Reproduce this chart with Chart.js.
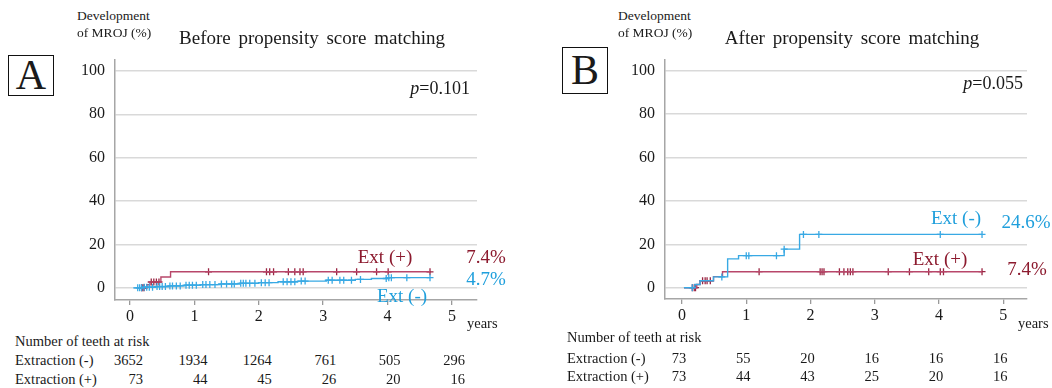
<!DOCTYPE html>
<html>
<head>
<meta charset="utf-8">
<script src="https://cdn.jsdelivr.net/npm/chart.js@4"></script>
<style>
  body { margin: 0; background: #fff; width: 1052px; height: 388px; overflow: hidden; position: relative;
         font-family: "Liberation Serif", "Times New Roman", serif; color: #1a1a1a; }
  canvas { position: absolute; }
  .t { position: absolute; white-space: nowrap; line-height: 1; }
  .ylab { font-size: 13.5px; }
  .title { font-size: 19px; word-spacing: 3px; }
  .pval { font-size: 18px; }
  .grp { font-size: 19px; }
  .risk { font-size: 14.5px; }
  .box { position: absolute; border: 1.5px solid #111; font-size: 42px; text-align: center; line-height: 40px; background: #fff; }
  .blue { color: #1f9fdc; }
  .red { color: #8c1a2e; }
</style>
</head>
<body>
<canvas id="chartA" width="422" height="290" style="left:60px;top:40px"></canvas>
<canvas id="chartB" width="422" height="289" style="left:610px;top:40px"></canvas>
<div id="labels"></div>
<script>
// Curvas de Kaplan-Meier (años, % acumulado) y marcas de censura.
const years = [0, 1, 2, 3, 4, 5];
const yTicks = [0, 20, 40, 60, 80, 100];

// Panel A: antes del emparejamiento
const kmNoExtA = [[0.05,0],[0.2,0.3],[0.4,0.6],[0.6,0.9],[0.85,1.2],[1.1,1.5],[1.4,1.8],[1.7,2.1],[2.0,2.4],[2.3,2.8],[2.6,3.1],[3.05,3.5],[3.5,3.9],[3.75,4.3],[4.0,4.7],[4.66,4.7]];
const censNoExtA = [[0.12,0],[0.15,0],[0.18,0],[0.22,0.3],[0.26,0.3],[0.3,0.3],[0.35,0.3],[0.42,0.6],[0.46,0.6],[0.5,0.6],[0.55,0.6],[0.62,0.9],[0.66,0.9],[0.72,0.9],[0.78,0.9],[0.87,1.2],[0.92,1.2],[0.97,1.2],[1.03,1.2],[1.13,1.5],[1.18,1.5],[1.24,1.5],[1.32,1.5],[1.42,1.8],[1.5,1.8],[1.58,1.8],[1.62,1.8],[1.72,2.1],[1.76,2.1],[1.8,2.1],[1.86,2.1],[1.94,2.1],[2.04,2.4],[2.1,2.4],[2.16,2.4],[2.38,2.8],[2.44,2.8],[2.5,2.8],[2.56,2.8],[2.66,3.1],[2.72,3.1],[3.08,3.5],[3.14,3.5],[3.26,3.5],[3.32,3.5],[3.44,3.5],[3.58,3.9],[3.98,4.3],[4.02,4.7],[4.06,4.7],[4.3,4.7],[4.66,4.7]];
const kmExtA = [[0.1,0],[0.26,1.4],[0.31,2.7],[0.48,5.0],[0.63,7.4],[4.66,7.4]];
const censExtA = [[0.18,0],[0.2,0],[0.22,0],[0.33,2.7],[0.37,2.7],[0.41,2.7],[0.45,2.7],[1.22,7.4],[2.12,7.4],[2.17,7.4],[2.23,7.4],[2.46,7.4],[2.56,7.4],[2.64,7.4],[2.69,7.4],[3.21,7.4],[3.52,7.4],[3.83,7.4],[4.01,7.4],[4.66,7.4]];
const riskNoExtA = [3652, 1934, 1264, 761, 505, 296];
const riskExtA = [73, 44, 45, 26, 20, 16];

// Panel B: después del emparejamiento
const kmNoExtB = [[0.03,0],[0.2,1.5],[0.28,3.2],[0.49,5.0],[0.71,13.3],[0.88,14.8],[1.59,17.8],[1.83,24.6],[4.67,24.6]];
const censNoExtB = [[0.16,0],[0.62,5.0],[1.0,14.8],[1.04,14.8],[1.47,14.8],[1.59,17.8],[1.89,24.6],[2.13,24.6],[4.02,24.6],[4.67,24.6]];
const kmExtB = [[0.03,0],[0.23,1.5],[0.28,3.2],[0.49,5.1],[0.63,7.4],[4.67,7.4]];
const censExtB = [[0.16,0],[0.19,0],[0.21,0],[0.32,3.2],[0.36,3.2],[0.39,3.2],[0.44,3.2],[1.2,7.4],[2.15,7.4],[2.18,7.4],[2.21,7.4],[2.45,7.4],[2.52,7.4],[2.58,7.4],[2.62,7.4],[2.66,7.4],[3.21,7.4],[3.54,7.4],[3.84,7.4],[4.02,7.4],[4.07,7.4],[4.67,7.4]];
const riskNoExtB = [73, 55, 20, 16, 16, 16];
const riskExtB = [73, 44, 43, 25, 20, 16];

const AZUL = "#38a9e4";
const ROJO = "#b8476a";
const ROJO_MARCA = "#9a2442";
const FUENTE = "'Liberation Serif', 'Times New Roman', serif";

const aPuntos = (arr) => arr.map(([x, y]) => ({ x, y }));

function dibujarKM(id, km, xMin, xMax, yMin) {
  const curva = (datos, color) => ({
    data: aPuntos(datos), stepped: true, borderColor: color, borderWidth: 1.4,
    pointRadius: 0, fill: false,
  });
  const censura = (datos, color) => ({
    data: aPuntos(datos), showLine: false, pointStyle: "cross", pointRadius: 3.5,
    borderColor: color, borderWidth: 1.3, pointBorderColor: color,
  });
  return new Chart(document.getElementById(id), {
    type: "line",
    data: {
      datasets: [
        curva(km.noExt, AZUL), censura(km.censNoExt, AZUL),
        curva(km.ext, ROJO), censura(km.censExt, ROJO_MARCA),
      ],
    },
    options: {
      responsive: false,
      animation: false,
      layout: { padding: { top: 5, right: 5, left: 0, bottom: 0 }, autoPadding: false },
      plugins: { legend: { display: false }, tooltip: { enabled: false } },
      scales: {
        x: {
          type: "linear", min: xMin, max: xMax,
          afterBuildTicks: (s) => { s.ticks = years.map((v) => ({ value: v })); },
          afterFit: (s) => { s.height = 30; },
          grid: { drawOnChartArea: false, drawTicks: true, tickLength: 5, color: "#9a9a9a", lineWidth: 1.3 },
          border: { color: "#a6a6a6", width: 1.5 },
          ticks: { color: "#1a1a1a", font: { family: FUENTE, size: 16 }, padding: 2, maxRotation: 0 },
        },
        y: {
          type: "linear", min: yMin, max: 105.2,
          afterBuildTicks: (s) => { s.ticks = yTicks.map((v) => ({ value: v })); },
          afterFit: (s) => { s.width = 55; },
          grid: { color: "#d9d9d9", lineWidth: 1.5, drawTicks: false },
          border: { color: "#a6a6a6", width: 1.5 },
          ticks: { color: "#1a1a1a", font: { family: FUENTE, size: 16 }, padding: 10 },
        },
      },
    },
  });
}

const chartA = dibujarKM("chartA",
  { noExt: kmNoExtA, censNoExt: censNoExtA, ext: kmExtA, censExt: censExtA }, -0.233, 5.39, -5.6);
const chartB = dibujarKM("chartB",
  { noExt: kmNoExtB, censNoExt: censNoExtB, ext: kmExtB, censExt: censExtB }, -0.265, 5.37, -5.2);

// ---------- Textos ----------
const cont = document.getElementById("labels");
function texto(txt, x, y, alin, clase) {
  const d = document.createElement("div");
  d.className = "t " + (clase || "");
  d.innerHTML = txt;
  d.style.left = x + "px";
  d.style.top = y + "px";
  const tx = alin === "center" ? "-50%" : alin === "right" ? "-100%" : "0";
  d.style.transform = `translate(${tx}, -50%)`;
  cont.appendChild(d);
}
function caja(letra, x, y, w, h) {
  const d = document.createElement("div");
  d.className = "box";
  d.textContent = letra;
  Object.assign(d.style, { left: x + "px", top: y + "px", width: w + "px", height: h + "px", lineHeight: h + "px" });
  cont.appendChild(d);
}

// Panel A
caja("A", 8, 55, 44, 39);
texto("Development", 77, 16, "left", "ylab");
texto("of MROJ (%)", 77, 33, "left", "ylab");
texto("Before propensity score matching", 312, 37, "center", "title");
texto("<i>p</i>=0.101", 470, 88, "right", "pval");
texto("Ext (+)", 385, 256, "center", "grp red");
texto("7.4%", 486, 256, "center", "grp red");
texto("4.7%", 486, 278, "center", "grp blue");
texto("Ext (-)", 402, 295, "center", "grp blue");
texto("years", 467, 323, "left", "risk");
texto("Number of teeth at risk", 15, 341, "left", "risk");
texto("Extraction (-)", 15, 360, "left", "risk");
texto("Extraction (+)", 15, 379, "left", "risk");
years.forEach((v, i) => {
  const px = 60 + chartA.scales.x.getPixelForValue(v);
  texto(String(riskNoExtA[i]), px + 13, 360, "right", "risk");
  texto(String(riskExtA[i]), px + 13, 379, "right", "risk");
});

// Panel B
caja("B", 562, 47, 44, 45);
texto("Development", 618, 16, "left", "ylab");
texto("of MROJ (%)", 618, 33, "left", "ylab");
texto("After propensity score matching", 852, 37, "center", "title");
texto("<i>p</i>=0.055", 1023, 83, "right", "pval");
texto("Ext (-)", 956, 217, "center", "grp blue");
texto("24.6%", 1026, 221, "center", "grp blue");
texto("Ext (+)", 940, 258, "center", "grp red");
texto("7.4%", 1027, 268, "center", "grp red");
texto("years", 1018, 323, "left", "risk");
texto("Number of teeth at risk", 567, 337, "left", "risk");
texto("Extraction (-)", 567, 358, "left", "risk");
texto("Extraction (+)", 567, 376, "left", "risk");
years.forEach((v, i) => {
  const px = 610 + chartB.scales.x.getPixelForValue(v);
  texto(String(riskNoExtB[i]), px - 3, 358, "center", "risk");
  texto(String(riskExtB[i]), px - 3, 376, "center", "risk");
});
</script>
</body>
</html>
